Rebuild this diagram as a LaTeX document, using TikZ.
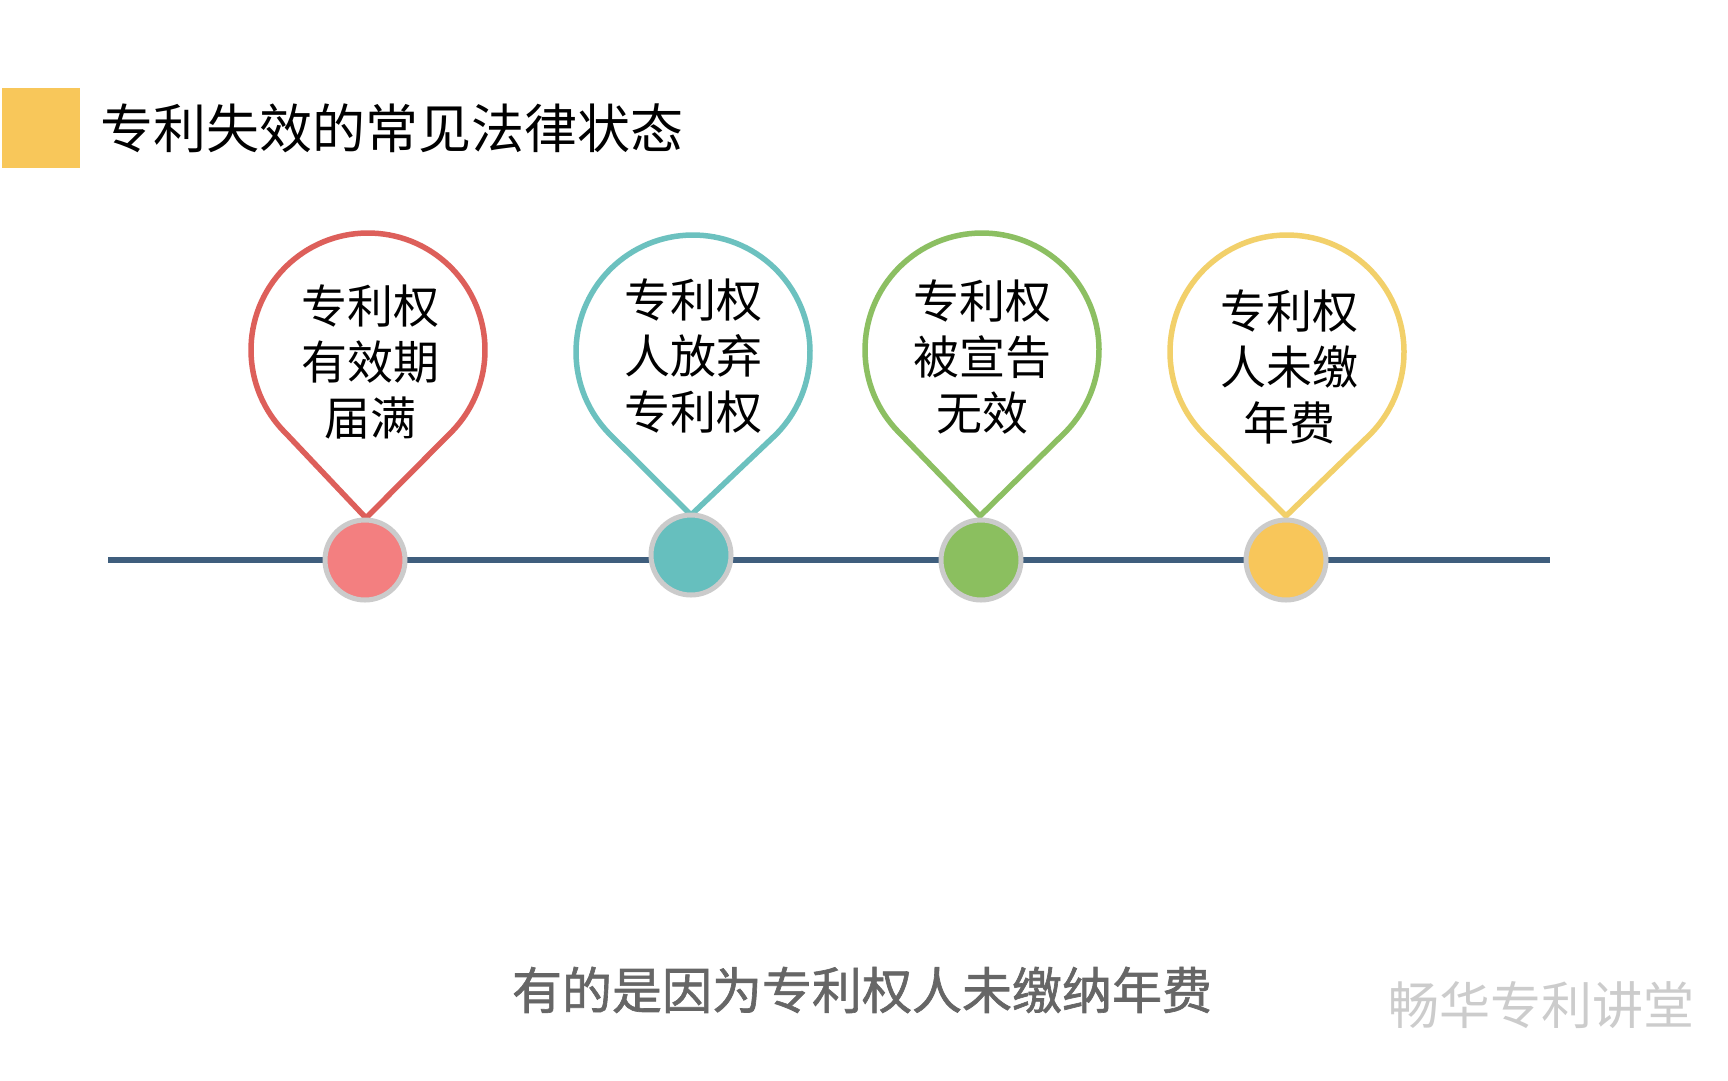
\documentclass[tikz,border=0pt]{standalone}
\usepackage{fontspec}
\newfontfamily\cjk{Noto Sans CJK SC}
\newfontfamily\cjkb[FakeBold=1.3]{Noto Sans CJK SC}
\usetikzlibrary{calc}
\definecolor{tyellow}{HTML}{F8C75A}
\definecolor{pred}{HTML}{DD5F5A}
\definecolor{fred}{HTML}{F37F80}
\definecolor{pteal}{HTML}{6CC1BF}
\definecolor{fteal}{HTML}{66BFBE}
\definecolor{pgreen}{HTML}{8CBF62}
\definecolor{fgreen}{HTML}{8BBF5F}
\definecolor{pyellow}{HTML}{F2D06A}
\definecolor{fyellow}{HTML}{F8C65A}
\definecolor{axis}{HTML}{3F5E7D}
\definecolor{ring}{HTML}{CBCBCB}
\tikzset{
  pinline/.style={line width=5.5pt, line join=round},
  dot/.style={circle, minimum size=80pt, inner sep=0pt, line width=5pt, draw=ring},
  pintext/.style={font=\cjk\fontsize{46}{56}\selectfont, align=center, text=black},
}
\begin{document}
\begin{tikzpicture}[x=1pt,y=-1pt]
\useasboundingbox[fill=white] (0,0) rectangle (1728,1080);
% title
\fill[tyellow] (2,88) rectangle (80,168);
\node[anchor=west, inner sep=0pt, font=\cjk\fontsize{53}{60}\selectfont] (title) at (100,128) {专利失效的常见法律状态};
% axis
\coordinate (a0) at (108,560);
\coordinate (a1) at (1550,560);
\draw[axis, line width=6pt] (a0) -- (a1);
% pins
\foreach \cx/\cy/\tx/\ty/\col in {368/350/366/518/pred, 693/352/691/515/pteal, 982/350/980/516/pgreen, 1287/352/1286/516/pyellow}{
  \draw[pinline, \col] (\tx,\ty) -- ($(\cx,\cy)+(134.5:117)$) arc[start angle=134.5, end angle=405.5, radius=117] -- cycle;
}
% dots
\node[dot, fill=fred] (d1) at (365,560) {};
\node[dot, fill=fteal] (d2) at (691,555) {};
\node[dot, fill=fgreen] (d3) at (981,560) {};
\node[dot, fill=fyellow] (d4) at (1286,560) {};
% pin texts
\node[pintext] (t1) at (370,362) {专利权\\有效期\\届满};
\node[pintext] (t2) at (693,356) {专利权\\人放弃\\专利权};
\node[pintext] (t3) at (982,357) {专利权\\被宣告\\无效};
\node[pintext] (t4) at (1289,367) {专利权\\人未缴\\年费};
% bottom text
\node[font=\cjkb\fontsize{50}{60}\selectfont, text=black!60, inner sep=0pt] (sub) at (862,990) {有的是因为专利权人未缴纳年费};
% watermark
\node[font=\cjk\fontsize{51}{60}\selectfont, text=black!20, inner sep=0pt] (wm) at (1541,1005) {畅华专利讲堂};
\end{tikzpicture}
\end{document}
